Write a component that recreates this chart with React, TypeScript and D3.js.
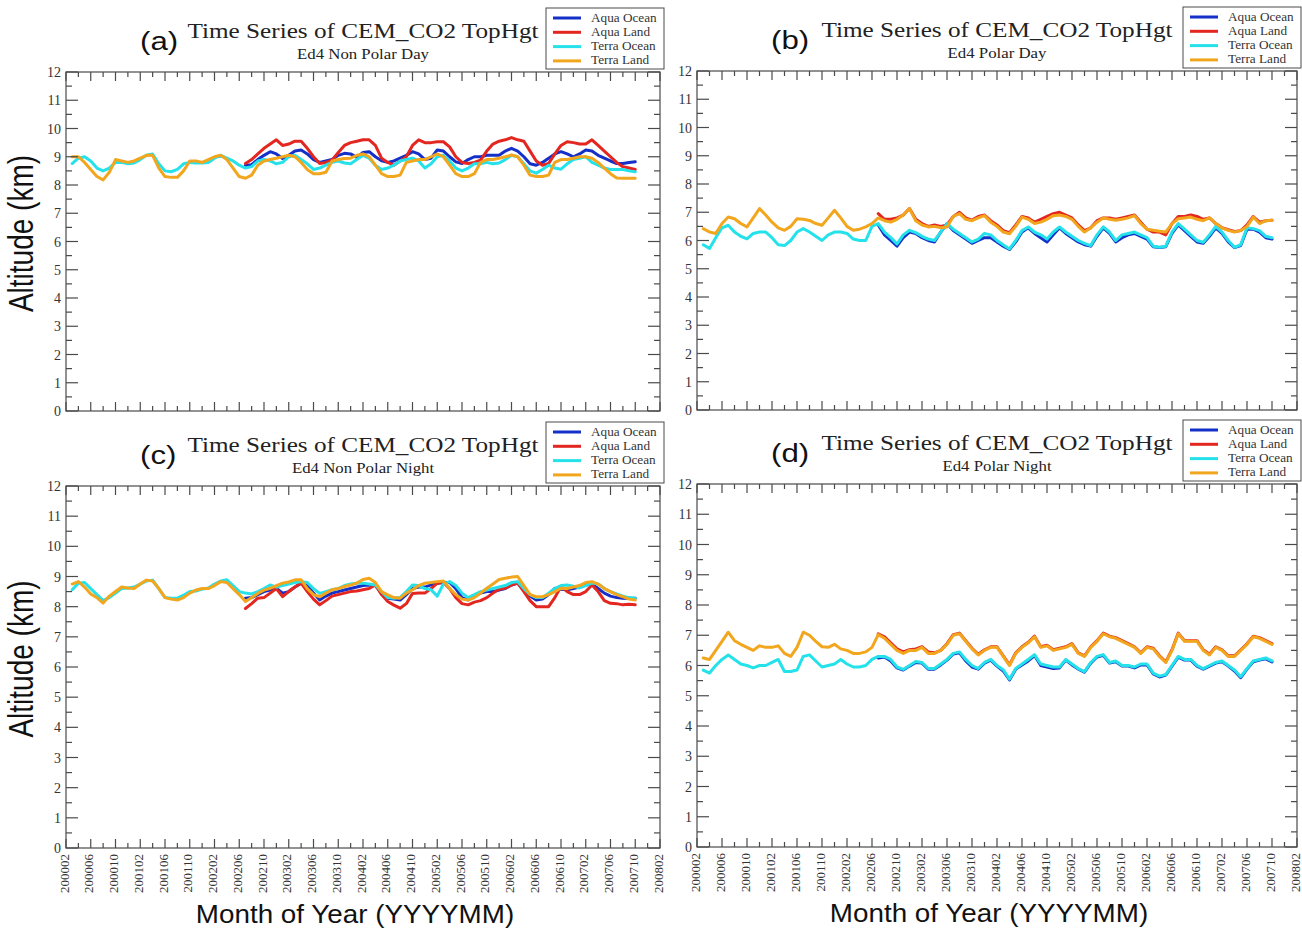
import React from "react";
import * as d3 from "d3";

// ---------- axis / legend definitions ----------
const X_TICK_LABELS = [
  "200002", "200006", "200010", "200102", "200106", "200110", "200202", "200206",
  "200210", "200302", "200306", "200310", "200402", "200406", "200410", "200502",
  "200506", "200510", "200602", "200606", "200610", "200702", "200706", "200710", "200802",
];
const Y_TICKS = [0, 1, 2, 3, 4, 5, 6, 7, 8, 9, 10, 11, 12];
const SERIES_NAMES = ["Aqua Ocean", "Aqua Land", "Terra Ocean", "Terra Land"];
const SERIES_COLORS = ["#1530c8", "#e3261f", "#25e2ea", "#f2a61e"];
const TERRA_START = "200003";
const AQUA_START = "200207";

// ---------- (a) Ed4 Non Polar Day ----------
const npdAquaOcean = [
  8.7, 8.72, 8.9, 9.05, 9.18, 9.1, 8.94, 9.05, 9.2, 9.24,
  9.1, 8.9, 8.8, 8.85, 8.9, 9.05, 9.12, 9.1, 8.98, 9.15,
  9.18, 9.0, 8.86, 8.8, 8.85, 8.95, 9.05, 9.18, 9.1, 8.9,
  8.95, 9.24, 9.2, 9.0, 8.82, 8.76, 8.9, 9.0, 9.0, 9.05,
  9.05, 9.05, 9.2, 9.3, 9.2, 9.0, 8.75, 8.7, 8.8, 8.95,
  9.1, 9.18, 9.1, 9.0, 9.1, 9.24, 9.2, 9.05, 8.95, 8.85,
  8.76, 8.76, 8.8, 8.82,
];
const npdAquaLand = [
  8.76, 8.9, 9.1, 9.3, 9.45, 9.6, 9.4, 9.45, 9.55, 9.55,
  9.3, 9.0, 8.76, 8.8, 8.88, 9.15, 9.4, 9.5, 9.55, 9.6,
  9.6, 9.4, 8.95, 8.8, 8.7, 8.85, 9.0, 9.4, 9.6, 9.5,
  9.5, 9.53, 9.53, 9.35, 9.0, 8.8, 8.76, 8.8, 8.88, 9.2,
  9.45, 9.55, 9.6, 9.68, 9.6, 9.55, 9.2, 8.85, 8.7, 8.76,
  9.1, 9.4, 9.53, 9.5, 9.45, 9.45, 9.6, 9.4, 9.2, 9.0,
  8.8, 8.65, 8.6, 8.55,
];
const npdTerraOcean = [
  8.76, 8.95, 9.0, 8.85, 8.6, 8.5, 8.6, 8.8, 8.8, 8.75,
  8.78, 8.9, 9.05, 9.1, 8.75, 8.5, 8.47, 8.55, 8.75, 8.8,
  8.78, 8.78, 8.8, 8.95, 9.05, 8.95, 8.85, 8.7, 8.6, 8.65,
  8.85, 8.9, 8.85, 8.75, 8.8, 9.0, 9.05, 8.9, 8.75, 8.55,
  8.6, 8.7, 8.8, 8.85, 8.78, 8.75, 8.9, 9.05, 8.95, 8.7,
  8.55, 8.6, 8.7, 8.85, 8.9, 8.95, 8.85, 8.6, 8.75, 9.0,
  9.05, 8.85, 8.6, 8.5, 8.6, 8.75, 8.75, 8.8, 8.75, 8.78,
  8.9, 9.05, 9.0, 8.75, 8.5, 8.42, 8.55, 8.7, 8.6, 8.56,
  8.75, 8.9, 8.95, 9.0, 8.8, 8.7, 8.6, 8.55, 8.55, 8.55,
  8.5, 8.47,
];
const npdTerraLand = [
  9.0, 9.0, 8.8, 8.55, 8.3, 8.18, 8.45, 8.9, 8.85, 8.8,
  8.85, 8.95, 9.05, 9.05, 8.6, 8.3, 8.27, 8.27, 8.5, 8.85,
  8.85, 8.8, 8.9, 9.0, 9.05, 8.9, 8.6, 8.3, 8.24, 8.35,
  8.7, 8.85, 8.9, 8.95, 9.0, 9.05, 9.0, 8.8, 8.55, 8.4,
  8.4, 8.45, 8.85, 8.9, 8.94, 8.95, 9.05, 9.1, 9.0, 8.7,
  8.4, 8.3, 8.3, 8.35, 8.8, 8.85, 8.9, 8.9, 9.0, 9.1,
  9.0, 8.7, 8.4, 8.3, 8.3, 8.4, 8.8, 8.9, 8.9, 8.95,
  9.0, 9.06, 9.0, 8.7, 8.35, 8.3, 8.3, 8.35, 8.8, 8.9,
  8.9, 8.95, 9.0, 9.0, 8.95, 8.8, 8.6, 8.4, 8.25, 8.24,
  8.24, 8.24,
];

// ---------- (b) Ed4 Polar Day ----------
const pdAquaOcean = [
  6.55, 6.2, 6.0, 5.8, 6.1, 6.3, 6.25, 6.1, 6.0, 5.95,
  6.3, 6.6, 6.35, 6.2, 6.05, 5.9, 6.0, 6.1, 6.1, 5.95,
  5.8, 5.68, 5.95, 6.3, 6.45, 6.25, 6.1, 5.95, 6.2, 6.45,
  6.25, 6.1, 5.95, 5.85, 5.8, 6.15, 6.45, 6.25, 5.95, 6.1,
  6.2, 6.25, 6.15, 6.05, 5.78, 5.75, 5.78, 6.25, 6.55, 6.35,
  6.15, 5.95, 5.9, 6.15, 6.45, 6.25, 5.95, 5.75, 5.82, 6.4,
  6.4, 6.3, 6.1, 6.05,
];
const pdAquaLand = [
  6.95, 6.75, 6.75, 6.8, 6.9, 7.13, 6.75, 6.6, 6.5, 6.55,
  6.5, 6.55, 6.85, 7.0, 6.8, 6.72, 6.85, 6.9, 6.7, 6.55,
  6.35, 6.28, 6.55, 6.85, 6.8, 6.65, 6.75, 6.85, 6.95, 7.0,
  6.9, 6.8, 6.55, 6.35, 6.45, 6.7, 6.8, 6.8, 6.75, 6.8,
  6.85, 6.9, 6.65, 6.4, 6.3, 6.3, 6.2, 6.6, 6.85, 6.85,
  6.9, 6.85, 6.75, 6.8, 6.6, 6.45, 6.38, 6.32, 6.35, 6.55,
  6.85, 6.65, 6.7, 6.72,
];
const pdTerraOcean = [
  5.85, 5.72, 6.1, 6.45, 6.54, 6.3, 6.15, 6.06, 6.25, 6.3,
  6.3, 6.1, 5.85, 5.82, 6.0, 6.3, 6.42, 6.3, 6.15, 6.0,
  6.2, 6.3, 6.3, 6.25, 6.05, 6.0, 6.0, 6.5, 6.6, 6.3,
  6.1, 5.88, 6.2, 6.36, 6.28, 6.15, 6.05, 6.0, 6.3, 6.6,
  6.4, 6.25, 6.1, 5.95, 6.05, 6.25, 6.2, 6.0, 5.85, 5.7,
  6.0, 6.35, 6.48, 6.3, 6.2, 6.05, 6.3, 6.48, 6.3, 6.15,
  6.0, 5.9, 5.82, 6.2, 6.48, 6.3, 6.0, 6.2, 6.25, 6.3,
  6.2, 6.1, 5.8, 5.76, 5.8, 6.3, 6.6, 6.4, 6.2, 6.0,
  5.94, 6.2, 6.5, 6.3, 6.0, 5.76, 5.85, 6.45, 6.42, 6.35,
  6.15, 6.1,
];
const pdTerraLand = [
  6.42, 6.3, 6.25, 6.6, 6.83, 6.77, 6.6, 6.48, 6.8, 7.13,
  6.9, 6.65, 6.45, 6.36, 6.5, 6.77, 6.75, 6.71, 6.6, 6.54,
  6.8, 7.07, 6.8, 6.5, 6.36, 6.4, 6.48, 6.6, 6.8, 6.7,
  6.65, 6.75, 6.9, 7.13, 6.7, 6.55, 6.48, 6.5, 6.45, 6.48,
  6.85, 6.95, 6.75, 6.7, 6.8, 6.88, 6.65, 6.5, 6.3, 6.24,
  6.5, 6.83, 6.75, 6.6, 6.65, 6.75, 6.88, 6.9, 6.85, 6.75,
  6.5, 6.3, 6.45, 6.65, 6.8, 6.75, 6.72, 6.75, 6.8, 6.88,
  6.6, 6.4, 6.36, 6.33, 6.3, 6.6, 6.77, 6.8, 6.83, 6.75,
  6.7, 6.8, 6.6, 6.45, 6.36, 6.3, 6.35, 6.5, 6.83, 6.6,
  6.7, 6.72,
];

// ---------- (c) Ed4 Non Polar Night ----------
const npnAquaOcean = [
  8.28, 8.3, 8.4, 8.5, 8.55, 8.61, 8.45, 8.5, 8.65, 8.78,
  8.7, 8.45, 8.22, 8.35, 8.45, 8.5, 8.55, 8.6, 8.65, 8.7,
  8.72, 8.7, 8.45, 8.28, 8.25, 8.22, 8.4, 8.6, 8.65, 8.65,
  8.72, 8.78, 8.8, 8.8, 8.6, 8.3, 8.22, 8.35, 8.45, 8.5,
  8.5, 8.55, 8.6, 8.72, 8.78, 8.55, 8.35, 8.22, 8.25, 8.4,
  8.61, 8.58, 8.56, 8.6, 8.65, 8.72, 8.75, 8.6, 8.45, 8.35,
  8.3, 8.28, 8.27, 8.28,
];
const npnAquaLand = [
  7.94, 8.1, 8.28, 8.3, 8.45, 8.6, 8.33, 8.5, 8.65, 8.78,
  8.5, 8.25, 8.06, 8.2, 8.35, 8.4, 8.45, 8.5, 8.52, 8.56,
  8.6, 8.72, 8.4, 8.17, 8.05, 7.95, 8.1, 8.44, 8.45, 8.45,
  8.6, 8.78, 8.8, 8.6, 8.3, 8.1, 8.06, 8.15, 8.2, 8.3,
  8.45, 8.58, 8.61, 8.72, 8.78, 8.5, 8.2, 8.0, 8.0, 8.0,
  8.3, 8.67, 8.5, 8.4, 8.4, 8.5, 8.72, 8.5, 8.2, 8.11,
  8.1, 8.06, 8.08, 8.06,
];
const npnTerraOcean = [
  8.56, 8.78, 8.8, 8.6, 8.4, 8.2, 8.3, 8.45, 8.6, 8.62,
  8.65, 8.75, 8.85, 8.88, 8.6, 8.3, 8.28, 8.28, 8.38, 8.5,
  8.52, 8.58, 8.62, 8.75, 8.85, 8.89, 8.7, 8.5, 8.45, 8.42,
  8.5, 8.6, 8.72, 8.65, 8.7, 8.75, 8.8, 8.83, 8.8, 8.6,
  8.44, 8.5, 8.56, 8.6, 8.7, 8.75, 8.78, 8.78, 8.75, 8.72,
  8.5, 8.3, 8.28, 8.3, 8.5, 8.72, 8.7, 8.6, 8.56, 8.35,
  8.75, 8.83, 8.7, 8.45, 8.3, 8.4, 8.5, 8.55, 8.6, 8.65,
  8.7, 8.8, 8.83, 8.6, 8.4, 8.3, 8.3, 8.45, 8.6, 8.7,
  8.72, 8.68, 8.62, 8.7, 8.78, 8.75, 8.6, 8.5, 8.42, 8.35,
  8.3, 8.28,
];
const npnTerraLand = [
  8.75, 8.83, 8.65, 8.42, 8.3, 8.12, 8.35, 8.5, 8.65, 8.62,
  8.6, 8.75, 8.88, 8.85, 8.6, 8.3, 8.25, 8.22, 8.3, 8.45,
  8.55, 8.6, 8.6, 8.7, 8.83, 8.8, 8.6, 8.4, 8.17, 8.3,
  8.44, 8.55, 8.61, 8.7, 8.78, 8.82, 8.89, 8.89, 8.6, 8.4,
  8.33, 8.45, 8.56, 8.6, 8.67, 8.72, 8.78, 8.9, 8.94, 8.8,
  8.5, 8.39, 8.3, 8.28, 8.45, 8.56, 8.7, 8.78, 8.8, 8.83,
  8.85, 8.6, 8.4, 8.25, 8.22, 8.3, 8.45, 8.61, 8.75, 8.9,
  8.94, 8.98, 9.0, 8.7, 8.4, 8.33, 8.33, 8.4, 8.5, 8.61,
  8.6, 8.65, 8.7, 8.8, 8.83, 8.75, 8.6, 8.5, 8.4, 8.33,
  8.25, 8.22,
];

// ---------- (d) Ed4 Polar Night ----------
const pnAquaOcean = [
  6.25, 6.28, 6.15, 5.92, 5.85, 5.98, 6.1, 6.08, 5.88, 5.88,
  6.02, 6.18, 6.38, 6.42, 6.15, 5.95, 5.88, 6.08, 6.18, 5.98,
  5.82, 5.52, 5.88, 6.02, 6.15, 6.33, 6.0, 5.95, 5.9, 5.92,
  6.18, 6.02, 5.88, 5.78, 6.08, 6.28, 6.34, 6.08, 6.12, 5.98,
  5.98, 5.92, 6.02, 6.02, 5.72, 5.62, 5.68, 5.98, 6.28, 6.18,
  6.18, 5.98, 5.88, 5.98, 6.08, 6.12, 5.98, 5.82, 5.6, 5.88,
  6.12, 6.18, 6.22, 6.12,
];
const pnAquaLand = [
  7.05, 6.95, 6.75, 6.55, 6.45, 6.52, 6.55, 6.62, 6.45, 6.42,
  6.5, 6.72, 7.02, 7.07, 6.82, 6.57, 6.37, 6.52, 6.62, 6.62,
  6.32, 6.02, 6.42, 6.62, 6.77, 6.97, 6.62, 6.67, 6.52, 6.57,
  6.62, 6.72, 6.42, 6.32, 6.62, 6.82, 7.07, 6.97, 6.92, 6.82,
  6.72, 6.62, 6.42, 6.62, 6.57, 6.32, 6.12, 6.52, 7.07, 6.82,
  6.82, 6.82, 6.52, 6.37, 6.62, 6.52, 6.32, 6.32, 6.52, 6.72,
  6.97, 6.92, 6.82, 6.72,
];
const pnTerraOcean = [
  5.85, 5.75, 6.0, 6.2, 6.35, 6.2, 6.05, 6.0, 5.92, 6.0,
  6.0, 6.1, 6.2, 5.8, 5.8, 5.85, 6.3, 6.35, 6.15, 5.95,
  6.0, 6.05, 6.2, 6.05, 5.95, 5.95, 6.0, 6.2, 6.3, 6.3,
  6.2, 5.95, 5.87, 6.0, 6.13, 6.1, 5.9, 5.9, 6.05, 6.2,
  6.4, 6.45, 6.2, 6.0, 5.9, 6.1, 6.2, 6.0, 5.86, 5.55,
  5.9, 6.05, 6.2, 6.36, 6.05, 6.0, 5.95, 5.95, 6.2, 6.05,
  5.9, 5.8, 6.1, 6.3, 6.36, 6.1, 6.15, 6.0, 6.0, 5.95,
  6.05, 6.05, 5.75, 5.65, 5.7, 6.0, 6.3, 6.2, 6.2, 6.0,
  5.9, 6.0, 6.1, 6.15, 6.0, 5.85, 5.63, 5.9, 6.15, 6.2,
  6.25, 6.15,
];
const pnTerraLand = [
  6.25, 6.2, 6.5, 6.8, 7.1, 6.82, 6.7, 6.6, 6.5, 6.65,
  6.6, 6.6, 6.65, 6.4, 6.3, 6.6, 7.1, 7.0, 6.8, 6.62,
  6.6, 6.7, 6.55, 6.5, 6.4, 6.4, 6.45, 6.6, 7.02, 6.9,
  6.7, 6.5, 6.4, 6.5, 6.5, 6.6, 6.4, 6.4, 6.5, 6.7,
  7.0, 7.05, 6.8, 6.55, 6.35, 6.5, 6.6, 6.6, 6.3, 6.0,
  6.4, 6.6, 6.75, 6.95, 6.6, 6.65, 6.5, 6.55, 6.6, 6.7,
  6.4, 6.3, 6.6, 6.8, 7.05, 6.95, 6.9, 6.8, 6.7, 6.6,
  6.4, 6.6, 6.55, 6.3, 6.1, 6.5, 7.05, 6.8, 6.8, 6.8,
  6.5, 6.35, 6.6, 6.5, 6.3, 6.3, 6.5, 6.7, 6.95, 6.9,
  6.8, 6.7,
];

// ---------- helpers ----------
const monthIndex = (s: string) => (+s.slice(0, 4) - 2000) * 12 + (+s.slice(4, 6) - 2);

type PanelCfg = {
  L: number; R: number; T: number; B: number;
  letter: string; sub: string; xLabels: boolean; yTitle: boolean;
  series: number[][];
};

const panels: PanelCfg[] = [
  { L: 66, R: 660, T: 72, B: 411, letter: "(a)", sub: "Ed4 Non Polar Day", xLabels: false, yTitle: true,
    series: [npdAquaOcean, npdAquaLand, npdTerraOcean, npdTerraLand] },
  { L: 697, R: 1297, T: 71, B: 410, letter: "(b)", sub: "Ed4 Polar Day", xLabels: false, yTitle: false,
    series: [pdAquaOcean, pdAquaLand, pdTerraOcean, pdTerraLand] },
  { L: 66, R: 660, T: 486, B: 848, letter: "(c)", sub: "Ed4 Non Polar Night", xLabels: true, yTitle: true,
    series: [npnAquaOcean, npnAquaLand, npnTerraOcean, npnTerraLand] },
  { L: 697, R: 1297, T: 484, B: 847, letter: "(d)", sub: "Ed4 Polar Night", xLabels: true, yTitle: false,
    series: [pnAquaOcean, pnAquaLand, pnTerraOcean, pnTerraLand] },
];

const SERIF = "'Liberation Serif', 'DejaVu Serif', serif";
const SANS = "'Liberation Sans', Arial, sans-serif";
const AXIS = "#4a4a4a";

function Panel({ cfg }: { cfg: PanelCfg }) {
  const { L, R, T, B } = cfg;
  const nMonths = monthIndex(X_TICK_LABELS[X_TICK_LABELS.length - 1]);
  const x = d3.scaleLinear().domain([0, nMonths]).range([L, R]);
  const y = d3.scaleLinear().domain([0, 12]).range([B, T]);
  const starts = [AQUA_START, AQUA_START, TERRA_START, TERRA_START].map(monthIndex);
  const cx = (L + R) / 2;

  const minorX = d3.range(0, nMonths + 1, 2);
  const minorY = d3.range(0, 12.01, 0.5);

  return (
    <g>
      {/* data lines */}
      {cfg.series.map((vals, si) => {
        const line = d3
          .line<number>()
          .x((_, i) => x(starts[si] + i))
          .y((d) => y(d));
        return (
          <path key={si} d={line(vals) || ""} fill="none" stroke={SERIES_COLORS[si]}
            strokeWidth={3} strokeLinejoin="round" strokeLinecap="round" />
        );
      })}

      {/* frame */}
      <rect x={L} y={T} width={R - L} height={B - T} fill="none" stroke={AXIS} strokeWidth={1.2} />

      {/* x ticks (top & bottom) */}
      {minorX.map((m) => {
        const major = m % 4 === 0;
        const len = major ? 9 : 5;
        const xx = x(m);
        return (
          <g key={"xt" + m} stroke={AXIS} strokeWidth={1.2}>
            <line x1={xx} x2={xx} y1={B} y2={B - len} />
            <line x1={xx} x2={xx} y1={T} y2={T + len} />
          </g>
        );
      })}
      {/* y ticks (left & right) */}
      {minorY.map((v) => {
        const major = Math.abs(v - Math.round(v)) < 1e-6;
        const len = major ? 12 : 6;
        const yy = y(v);
        return (
          <g key={"yt" + v} stroke={AXIS} strokeWidth={1.2}>
            <line x1={L} x2={L + len} y1={yy} y2={yy} />
            <line x1={R} x2={R - len} y1={yy} y2={yy} />
          </g>
        );
      })}
      {/* y tick labels */}
      {Y_TICKS.map((v) => (
        <text key={"yl" + v} x={L - 5} y={y(v) + 5} textAnchor="end" fontFamily={SERIF}
          fontSize={14} fill="#333">{v}</text>
      ))}
      {/* x tick labels */}
      {cfg.xLabels &&
        X_TICK_LABELS.map((lab) => {
          const xx = x(monthIndex(lab));
          return (
            <text key={"xl" + lab} transform={`translate(${xx + 2.5},${B + 6}) rotate(-90)`}
              textAnchor="end" fontFamily={SERIF} fontSize={13} fill="#333">{lab}</text>
          );
        })}
      {cfg.xLabels && (
        <text transform={`translate(${cx - 8},${B + 75}) scale(1.07,1)`} textAnchor="middle"
          fontFamily={SANS} fontSize={26} fill="#111">
          Month of Year (YYYYMM)
        </text>
      )}
      {cfg.yTitle && (
        <text transform={`translate(${L - 33},${(T + B) / 2 - 8}) rotate(-90) scale(1,1.25)`}
          textAnchor="middle" fontFamily={SANS} fontSize={28} fill="#111">Altitude (km)</text>
      )}

      {/* titles */}
      <text transform={`translate(${cx},${T - 34}) scale(1.2,1)`} textAnchor="middle"
        fontFamily={SERIF} fontSize={21} fill="#222">
        Time Series of CEM_CO2 TopHgt
      </text>
      <text transform={`translate(${cx},${T - 13}) scale(1.2,1)`} textAnchor="middle"
        fontFamily={SERIF} fontSize={14} fill="#222">
        {cfg.sub}
      </text>
      <text transform={`translate(${L + 74},${T - 22}) scale(1.2,1)`} fontFamily={SANS}
        fontSize={26} fill="#111">{cfg.letter}</text>

      {/* legend */}
      <g>
        <rect x={R - 114} y={T - 64} width={118} height={61} fill="#fff" stroke={AXIS} strokeWidth={1} />
        {SERIES_NAMES.map((nm, i) => {
          const yy = T - 54 + i * 14.3;
          return (
            <g key={nm}>
              <line x1={R - 107} x2={R - 79} y1={yy} y2={yy} stroke={SERIES_COLORS[i]} strokeWidth={3} />
              <text transform={`translate(${R - 69},${yy + 3.5}) scale(1.15,1)`} fontFamily={SERIF}
                fontSize={11.5} fill="#333">{nm}</text>
            </g>
          );
        })}
      </g>
    </g>
  );
}

export default function App() {
  return (
    <svg width={1302} height={931} viewBox="0 0 1302 931"
      style={{ position: "absolute", left: 0, top: 0, background: "#fff" }}>
      <rect width={1302} height={931} fill="#fff" />
      {panels.map((p, i) => (
        <Panel key={i} cfg={p} />
      ))}
    </svg>
  );
}
